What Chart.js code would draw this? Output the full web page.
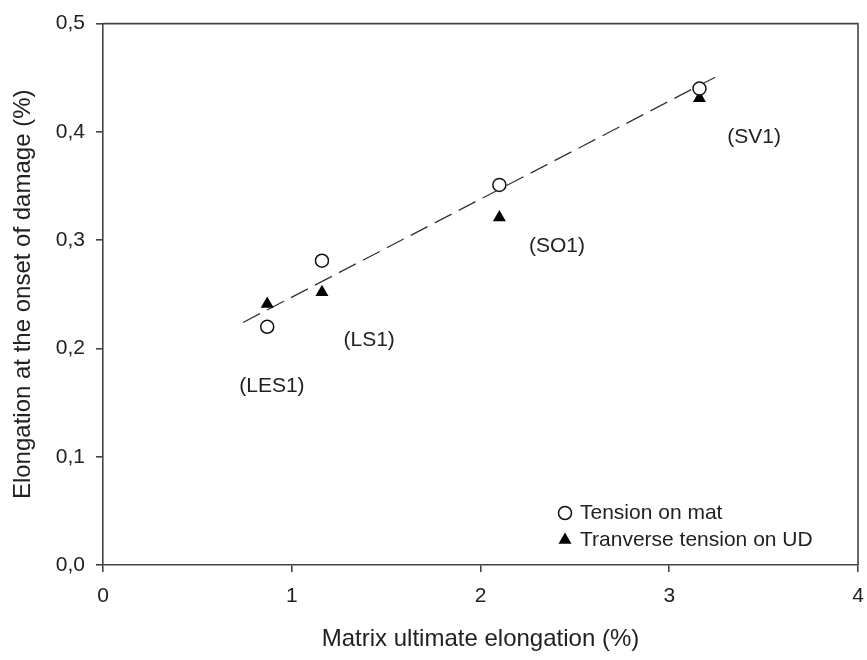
<!DOCTYPE html>
<html>
<head>
<meta charset="utf-8">
<script src="https://cdn.jsdelivr.net/npm/chart.js@4/dist/chart.umd.min.js"></script>
<style>
  html, body { margin: 0; padding: 0; background: #fff; }
  #wrap { width: 867px; height: 660px; }
</style>
</head>
<body>
<div id="wrap"><canvas id="chart" width="867" height="660"></canvas></div>
<script>
// values
const matrixElong = [0.87, 1.16, 2.10, 3.16];
const matOnset = [0.220, 0.281, 0.351, 0.440];
const udOnset = [0.241, 0.252, 0.321, 0.431];

const fitX = [0.742, 3.26];
const fitY = [0.224, 0.452];

const resinNames = ["(LES1)", "(LS1)", "(SO1)", "(SV1)"];
const nameX = [0.895, 1.41, 2.405, 3.45];
const nameY = [0.165, 0.208, 0.294, 0.395];

const seriesNames = ["Tension on mat", "Tranverse tension on UD"];

const FONT = "'Liberation Sans', Arial, sans-serif";
const INK = "#222";

const toPts = (xs, ys) => xs.map((x, i) => ({ x: x, y: ys[i] }));

// box around plot + point labels + legend inside the plot
const decorations = {
    id: "decorations",
    afterDatasetsDraw(chart) {
        const { ctx, chartArea, scales } = chart;
        const x = scales.x, y = scales.y;

        ctx.save();
        ctx.strokeStyle = "#444";
        ctx.lineWidth = 1.6;
        ctx.beginPath();
        ctx.moveTo(chartArea.left, chartArea.top);
        ctx.lineTo(chartArea.right, chartArea.top);
        ctx.lineTo(chartArea.right, chartArea.bottom);
        ctx.stroke();

        ctx.fillStyle = INK;
        ctx.font = "21px " + FONT;
        ctx.textAlign = "center";
        ctx.textBaseline = "middle";
        resinNames.forEach((name, i) => {
            ctx.fillText(name, x.getPixelForValue(nameX[i]), y.getPixelForValue(nameY[i]));
        });

        // legend
        const lx = 565, ly = [513, 540];
        ctx.lineWidth = 1.5;
        ctx.strokeStyle = "#111";
        ctx.fillStyle = "#fff";
        ctx.beginPath();
        ctx.arc(lx, ly[0], 6.5, 0, Math.PI * 2);
        ctx.fill();
        ctx.stroke();

        const r = 7.5;
        ctx.fillStyle = "#000";
        ctx.beginPath();
        ctx.moveTo(lx, ly[1] - r);
        ctx.lineTo(lx + r * Math.sin(Math.PI * 2 / 3), ly[1] + r / 2);
        ctx.lineTo(lx - r * Math.sin(Math.PI * 2 / 3), ly[1] + r / 2);
        ctx.closePath();
        ctx.fill();

        ctx.fillStyle = INK;
        ctx.textAlign = "left";
        seriesNames.forEach((name, i) => ctx.fillText(name, 580, ly[i]));
        ctx.restore();
    }
};

new Chart(document.getElementById("chart"), {
    type: "scatter",
    data: {
        datasets: [
            {
                label: "fit",
                type: "line",
                data: toPts(fitX, fitY),
                borderColor: "#333",
                borderWidth: 1.3,
                borderDash: [19, 8],
                pointRadius: 0,
                fill: false,
                order: 3
            },
            {
                label: seriesNames[0],
                data: toPts(matrixElong, matOnset),
                pointStyle: "circle",
                pointRadius: 6.5,
                backgroundColor: "#fff",
                borderColor: "#111",
                borderWidth: 1.5,
                order: 1
            },
            {
                label: seriesNames[1],
                data: toPts(matrixElong, udOnset),
                pointStyle: "triangle",
                pointRadius: 7.5,
                backgroundColor: "#000",
                borderColor: "#000",
                borderWidth: 0,
                order: 2
            }
        ]
    },
    options: {
        responsive: false,
        animation: false,
        events: [],
        layout: { padding: { top: 21, right: 0, left: 0, bottom: 0 } },
        plugins: {
            legend: { display: false },
            tooltip: { enabled: false }
        },
        scales: {
            x: {
                type: "linear",
                min: 0,
                max: 4,
                afterFit: s => { s.height = 95; s.paddingRight = 9; },
                ticks: {
                    stepSize: 1,
                    color: INK,
                    padding: 12,
                    maxRotation: 0,
                    font: { family: FONT, size: 21 },
                    callback: v => String(v)
                },
                grid: { drawOnChartArea: false, drawTicks: true, tickLength: 7, color: "#444", lineWidth: 1.6 },
                border: { color: "#444", width: 1.6 },
                title: {
                    display: true,
                    text: "Matrix ultimate elongation (%)",
                    color: INK,
                    font: { family: FONT, size: 24 },
                    padding: { top: 0, bottom: 6 }
                }
            },
            y: {
                type: "linear",
                min: 0,
                max: 0.5,
                afterFit: s => { s.width = 103; },
                ticks: {
                    stepSize: 0.1,
                    color: INK,
                    padding: 11,
                    font: { family: FONT, size: 21 },
                    callback: v => v.toFixed(1).replace(".", ",")
                },
                grid: { drawOnChartArea: false, drawTicks: true, tickLength: 7, color: "#444", lineWidth: 1.6 },
                border: { color: "#444", width: 1.6 },
                title: {
                    display: true,
                    text: "Elongation at the onset of damage (%)",
                    color: INK,
                    font: { family: FONT, size: 24 },
                    padding: { top: 9, bottom: 0 }
                }
            }
        }
    },
    plugins: [decorations]
});
</script>
</body>
</html>
